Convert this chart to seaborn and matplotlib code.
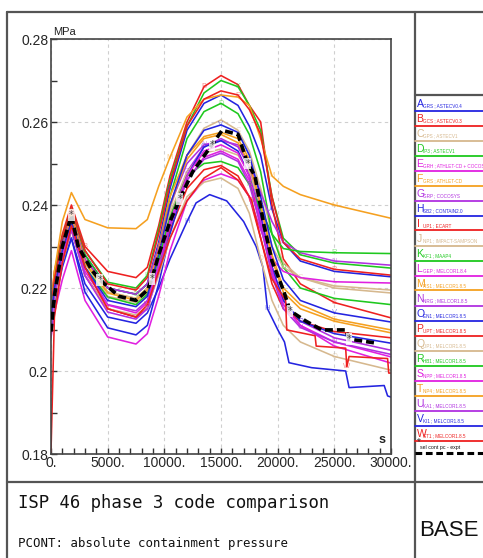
import numpy as np
import pandas as pd
import matplotlib
matplotlib.use("Agg")
import matplotlib.pyplot as plt
import seaborn as sns
from matplotlib.lines import Line2D
from matplotlib.ticker import MultipleLocator

# ---------------- data ----------------
T_GRID = [0, 300, 1000, 1800, 3000, 5000, 7500, 8500, 9500, 10500, 12000, 13500,
          15000, 16500, 17500, 18500, 19500, 20500, 22000, 25000, 30000]

A_VALS = [0.2150, 0.2220, 0.2310, 0.2380, 0.2280, 0.2200, 0.2185, 0.2210, 0.2310, 0.2440, 0.2580, 0.2645, 0.2665, 0.2640, 0.2590, 0.2520, 0.2390, 0.2310, 0.2265, 0.2240, 0.2227]
B_VALS = [0.2160, 0.2240, 0.2330, 0.2400, 0.2300, 0.2240, 0.2225, 0.2250, 0.2350, 0.2470, 0.2600, 0.2685, 0.2712, 0.2690, 0.2640, 0.2600, 0.2400, 0.2270, 0.2210, 0.2165, 0.2128]
C_VALS = [0.2130, 0.2200, 0.2290, 0.2360, 0.2260, 0.2180, 0.2165, 0.2190, 0.2280, 0.2390, 0.2520, 0.2585, 0.2605, 0.2580, 0.2530, 0.2440, 0.2330, 0.2260, 0.2225, 0.2200, 0.2188]
D_VALS = [0.2140, 0.2210, 0.2300, 0.2370, 0.2280, 0.2200, 0.2185, 0.2210, 0.2300, 0.2420, 0.2560, 0.2625, 0.2645, 0.2620, 0.2570, 0.2480, 0.2330, 0.2250, 0.2200, 0.2175, 0.2160]
E_VALS = [0.2120, 0.2180, 0.2270, 0.2350, 0.2230, 0.2150, 0.2130, 0.2150, 0.2240, 0.2350, 0.2460, 0.2515, 0.2530, 0.2510, 0.2460, 0.2350, 0.2240, 0.2160, 0.2110, 0.2060, 0.2019]
F_VALS = [0.2130, 0.2210, 0.2300, 0.2380, 0.2270, 0.2190, 0.2175, 0.2200, 0.2300, 0.2420, 0.2520, 0.2565, 0.2575, 0.2560, 0.2510, 0.2400, 0.2270, 0.2190, 0.2150, 0.2120, 0.2092]
G_VALS = [0.2110, 0.2190, 0.2280, 0.2360, 0.2250, 0.2160, 0.2145, 0.2170, 0.2260, 0.2370, 0.2480, 0.2540, 0.2560, 0.2540, 0.2490, 0.2380, 0.2250, 0.2170, 0.2120, 0.2080, 0.2050]
I_VALS = [0.2100, 0.2170, 0.2260, 0.2340, 0.2230, 0.2150, 0.2130, 0.2155, 0.2240, 0.2340, 0.2440, 0.2485, 0.2495, 0.2470, 0.2420, 0.2320, 0.2210, 0.2150, 0.2120, 0.2095, 0.2080]
J_VALS = [0.2120, 0.2190, 0.2280, 0.2360, 0.2260, 0.2190, 0.2175, 0.2200, 0.2280, 0.2380, 0.2480, 0.2525, 0.2535, 0.2520, 0.2480, 0.2400, 0.2300, 0.2250, 0.2225, 0.2205, 0.2195]
K_VALS = [0.2150, 0.2230, 0.2320, 0.2390, 0.2290, 0.2214, 0.2200, 0.2230, 0.2340, 0.2460, 0.2590, 0.2670, 0.2700, 0.2685, 0.2640, 0.2580, 0.2420, 0.2320, 0.2280, 0.2260, 0.2248]
L_VALS = [0.2080, 0.2140, 0.2220, 0.2290, 0.2170, 0.2082, 0.2065, 0.2090, 0.2180, 0.2290, 0.2410, 0.2460, 0.2475, 0.2460, 0.2420, 0.2340, 0.2270, 0.2240, 0.2225, 0.2215, 0.2212]
M_VALS = [0.2140, 0.2240, 0.2360, 0.2430, 0.2365, 0.2345, 0.2343, 0.2365, 0.2445, 0.2515, 0.2612, 0.2655, 0.2665, 0.2660, 0.2640, 0.2560, 0.2470, 0.2445, 0.2425, 0.2400, 0.2368]
N_VALS = [0.2140, 0.2210, 0.2300, 0.2370, 0.2270, 0.2200, 0.2185, 0.2210, 0.2300, 0.2400, 0.2500, 0.2545, 0.2555, 0.2545, 0.2500, 0.2430, 0.2360, 0.2310, 0.2285, 0.2265, 0.2255]
O_VALS = [0.2100, 0.2160, 0.2250, 0.2320, 0.2190, 0.2104, 0.2087, 0.2110, 0.2210, 0.2330, 0.2470, 0.2540, 0.2555, 0.2530, 0.2470, 0.2370, 0.2250, 0.2170, 0.2120, 0.2090, 0.2067]
P_VALS = [0.2140, 0.2220, 0.2320, 0.2390, 0.2290, 0.2210, 0.2195, 0.2225, 0.2330, 0.2450, 0.2590, 0.2655, 0.2675, 0.2665, 0.2630, 0.2570, 0.2420, 0.2310, 0.2270, 0.2245, 0.2231]
Q_VALS = [0.2110, 0.2170, 0.2260, 0.2340, 0.2230, 0.2150, 0.2135, 0.2155, 0.2230, 0.2320, 0.2420, 0.2455, 0.2465, 0.2440, 0.2380, 0.2270, 0.2170, 0.2110, 0.2070, 0.2035, 0.2002]
R_VALS = [0.2130, 0.2200, 0.2290, 0.2360, 0.2250, 0.2178, 0.2160, 0.2185, 0.2270, 0.2370, 0.2470, 0.2500, 0.2505, 0.2490, 0.2450, 0.2390, 0.2330, 0.2295, 0.2288, 0.2285, 0.2283]
S_VALS = [0.2120, 0.2190, 0.2280, 0.2350, 0.2240, 0.2159, 0.2140, 0.2165, 0.2250, 0.2360, 0.2470, 0.2530, 0.2545, 0.2525, 0.2470, 0.2360, 0.2240, 0.2160, 0.2110, 0.2070, 0.2034]
T_VALS = [0.2130, 0.2200, 0.2290, 0.2370, 0.2260, 0.2188, 0.2170, 0.2195, 0.2290, 0.2400, 0.2510, 0.2560, 0.2570, 0.2550, 0.2500, 0.2400, 0.2280, 0.2200, 0.2160, 0.2125, 0.2099]
U_VALS = [0.2110, 0.2180, 0.2270, 0.2340, 0.2230, 0.2142, 0.2125, 0.2150, 0.2240, 0.2350, 0.2460, 0.2510, 0.2525, 0.2505, 0.2450, 0.2350, 0.2230, 0.2150, 0.2105, 0.2070, 0.2040]
V_VALS = [0.2130, 0.2200, 0.2290, 0.2360, 0.2250, 0.2170, 0.2155, 0.2180, 0.2280, 0.2400, 0.2520, 0.2580, 0.2593, 0.2575, 0.2520, 0.2420, 0.2300, 0.2220, 0.2170, 0.2140, 0.2118]

H_TIME = [0, 300, 1000, 1800, 3000, 5000, 7500, 8500, 9500, 10500, 12000, 12800, 14000, 15500,
          17000, 18100, 18700, 19100, 20000, 20600, 21000, 23000, 26000, 26300, 29400, 29700, 30000]
H_VALS = [0.2120, 0.2170, 0.2260, 0.2320, 0.2210, 0.2130, 0.2115, 0.2140, 0.2200, 0.2270, 0.2360, 0.2405, 0.2425, 0.2410,
          0.2360, 0.2300, 0.2250, 0.2150, 0.2100, 0.2070, 0.2020, 0.2008, 0.2000, 0.1960, 0.1965, 0.1940, 0.1937]

W_TIME = [0, 300, 1000, 1800, 3000, 5000, 7500, 8500, 9500, 10500, 12000, 13500, 15000, 16500, 17700,
          18500, 19450, 20700, 20800, 23300, 23400, 26000, 26100, 26300, 29700, 29800, 30000]
W_VALS = [0.1805, 0.2130, 0.2260, 0.2350, 0.2250, 0.2150, 0.2130, 0.2160, 0.2240, 0.2320, 0.2410, 0.2465, 0.2490, 0.2460, 0.2412,
          0.2320, 0.2224, 0.2170, 0.2099, 0.2085, 0.2060, 0.2055, 0.2010, 0.2035, 0.2030, 0.1995, 0.1995]

EXP_TIME = [0, 300, 1000, 1800, 2400, 3600, 4300, 6000, 7500, 8500, 8900, 9500, 10500, 11350, 12500, 14200,
            15100, 16500, 17350, 18000, 18800, 19500, 20500, 21100, 22500, 23900, 26000, 26300, 28500]
EXP_VALS = [0.2095, 0.2180, 0.2300, 0.2375, 0.2300, 0.2243, 0.2220, 0.2180, 0.2170, 0.2195, 0.2222, 0.2280, 0.2360, 0.2414, 0.2480, 0.2545,
            0.2580, 0.2570, 0.2500, 0.2470, 0.2350, 0.2265, 0.2195, 0.2145, 0.2120, 0.2099, 0.2099, 0.2077, 0.2068]

SERIES_LETTERS = list("ABCDEFGHIJKLMNOPQRSTUVW")
SERIES_CODES = ["GRS ; ASTECV0.4", "GCS ; ASTECV0.3", "GPS ; ASTECV1", "IP3 ; ASTECV1",
                "GRH ; ATHLET-CD + COCOSYS", "GRS ; ATHLET-CD", "GRP ; COCOSYS", "SB2 ; CONTAIN2.0",
                "UP1 ; ECART", "NP1 ; IMPACT-SAMPSON", "KF1 ; MAAP4", "GEP ; MELCOR1.8.4",
                "RS1 ; MELCOR1.8.5", "NRG ; MELCOR1.8.5", "EN1 ; MELCOR1.8.5", "UPT ; MELCOR1.8.5",
                "UP1 ; MELCOR1.8.5", "HB1 ; MELCOR1.8.5", "NPP ; MELCOR1.8.5", "NP4 ; MELCOR1.8.5",
                "KA1 ; MELCOR1.8.5", "KI1 ; MELCOR1.8.5", "ST1 ; MELCOR1.8.5"]
EXP_LABEL = "sel cont pc - expt"

X_TICKS = [0, 5000, 10000, 15000, 20000, 25000, 30000]
X_TICK_LABELS = ["0.", "5000.", "10000.", "15000.", "20000.", "25000.", "30000."]
Y_TICKS = [0.18, 0.20, 0.22, 0.24, 0.26, 0.28]
Y_TICK_LABELS = ["0.18", "0.2", "0.22", "0.24", "0.26", "0.28"]

# ---------------- style ----------------
BLUE, RED, TAN, GREEN, MAG, ORANGE, VIOLET = ("#2424e0", "#ee2020", "#d6b88e", "#1ec81e",
                                              "#e020e0", "#f5a020", "#b030e0")
CYCLE = [BLUE, RED, TAN, GREEN, MAG, ORANGE, VIOLET]
COLORS = {L: CYCLE[i % 7] for i, L in enumerate(SERIES_LETTERS)}

values = {"A": A_VALS, "B": B_VALS, "C": C_VALS, "D": D_VALS, "E": E_VALS, "F": F_VALS,
          "G": G_VALS, "I": I_VALS, "J": J_VALS, "K": K_VALS, "L": L_VALS, "M": M_VALS,
          "N": N_VALS, "O": O_VALS, "P": P_VALS, "Q": Q_VALS, "R": R_VALS, "S": S_VALS,
          "T": T_VALS, "U": U_VALS, "V": V_VALS}
times = {k: T_GRID for k in values}
values["H"] = H_VALS; times["H"] = H_TIME
values["W"] = W_VALS; times["W"] = W_TIME

frames = []
for L in SERIES_LETTERS:
    frames.append(pd.DataFrame({"t": times[L], "p": values[L], "code": L}))
df = pd.concat(frames, ignore_index=True)
exp_df = pd.DataFrame({"t": EXP_TIME, "p": EXP_VALS})

sns.set_theme(style="white")
SANS = ["Liberation Sans", "DejaVu Sans"]
MONO = ["DejaVu Sans Mono"]
plt.rcParams["font.family"] = ["DejaVu Sans"]

W_PX, H_PX = 483, 558
fig = plt.figure(figsize=(W_PX / 100, H_PX / 100), dpi=100)
fig.patch.set_facecolor("white")

def fx(px):
    return px / W_PX

def fy(py):
    return 1 - py / H_PX

ax = fig.add_axes([fx(51), fy(454), (391 - 51) / W_PX, (454 - 39) / H_PX])

TAG_SLOTS = [(2, 9, 16), (4, 11, 19), (5, 13, 18), (6, 12, 17), (7, 14, 20), (8, 15, 19), (10, 16, 18)]
for i, L in enumerate(SERIES_LETTERS):
    sub = df[df["code"] == L]
    sns.lineplot(data=sub, x="t", y="p", ax=ax, color=COLORS[L], lw=1.15,
                 estimator=None, sort=False, legend=False, zorder=2 + i * 0.01)
    n = len(sub)
    for k in TAG_SLOTS[i % 7]:
        kk = min(k + (i // 7), n - 2)
        row = sub.iloc[kk]
        ax.text(row["t"], row["p"], L, fontsize=5.5, color=COLORS[L], alpha=0.5,
                ha="center", va="center", family=SANS, zorder=4)

sns.lineplot(data=exp_df, x="t", y="p", ax=ax, color="black", lw=2.6,
             linestyle=(0, (2.2, 1.1)), estimator=None, sort=False, legend=False, zorder=5)
for k in (3, 6, 10, 13, 15, 18, 23, 27):
    ax.text(exp_df["t"].iloc[k], exp_df["p"].iloc[k], "*", fontsize=7, color="#444",
            ha="center", va="center", zorder=6,
            bbox=dict(boxstyle="square,pad=0.1", fc="white", ec="none", alpha=0.8))

ax.set_xlim(0, 30000)
ax.set_ylim(0.18, 0.28)
ax.set_xticks(X_TICKS)
ax.set_xticklabels(X_TICK_LABELS, family=SANS, fontsize=10)
ax.set_yticks(Y_TICKS)
ax.set_yticklabels(Y_TICK_LABELS, family=SANS, fontsize=10)
ax.xaxis.set_minor_locator(MultipleLocator(1000))
ax.yaxis.set_minor_locator(MultipleLocator(0.01))
ax.tick_params(which="both", direction="in", length=4, width=1, color="#333",
               bottom=True, left=True, top=False, right=False, pad=1.5)
ax.tick_params(axis="y", pad=2)
ax.grid(True, which="major", ls=(0, (3, 3)), color="#cfcfcf", lw=0.8)
ax.set_xlabel("")
ax.set_ylabel("")
for sp in ax.spines.values():
    sp.set_color("#444")
    sp.set_linewidth(1.2)

fig.text(fx(53), fy(35), "MPa", fontsize=8, family=SANS, color="#222", va="baseline")
ax.text(0.985, 0.02, "s", transform=ax.transAxes, fontsize=9, family=SANS,
        ha="right", va="bottom", weight="bold", color="#222")

# ---------------- frame ----------------
FRAME = "#555555"
def fline(x0, y0, x1, y1, lw=1.6):
    fig.add_artist(Line2D([fx(x0), fx(x1)], [fy(y0), fy(y1)], color=FRAME, lw=lw))

fline(7, 12, 483, 12)
fline(7, 12, 7, 558)
fline(415, 12, 415, 558)
fline(7, 482, 483, 482)
fline(415, 95, 483, 95)

fig.text(fx(18), fy(508), "ISP 46 phase 3 code comparison", family=MONO, fontsize=12.4,
         va="baseline", color="#111")
fig.text(fx(18), fy(547), "PCONT: absolute containment pressure", family=MONO, fontsize=8.9,
         va="baseline", color="#111")
fig.text(fx(449), fy(536), "BASE", family=SANS, fontsize=16, ha="center",
         va="baseline", color="#111")

# ---------------- legend ----------------
for i, (L, code) in enumerate(zip(SERIES_LETTERS, SERIES_CODES)):
    yc = 103 + 15 * i
    c = COLORS[L]
    fig.text(fx(416.5), fy(yc + 4), L, color=c, fontsize=7.5, family=SANS, va="baseline")
    fig.text(fx(423), fy(yc + 4), code, color=c, fontsize=3.3, family=SANS, va="baseline")
    fig.add_artist(Line2D([fx(415), fx(483)], [fy(yc + 7.5), fy(yc + 7.5)], color=c, lw=1.3))
ye = 103 + 15 * 23
fig.text(fx(416.5), fy(ye - 3), "*", color="#333", fontsize=7, family=SANS, va="baseline")
fig.text(fx(420), fy(ye + 1), EXP_LABEL, color="#111", fontsize=3.8, family=SANS, va="baseline")
fig.add_artist(Line2D([fx(415), fx(483)], [fy(ye + 5), fy(ye + 5)], color="black", lw=2.2,
                      linestyle=(0, (2.2, 1.2))))

fig.savefig("out.png", dpi=100)
